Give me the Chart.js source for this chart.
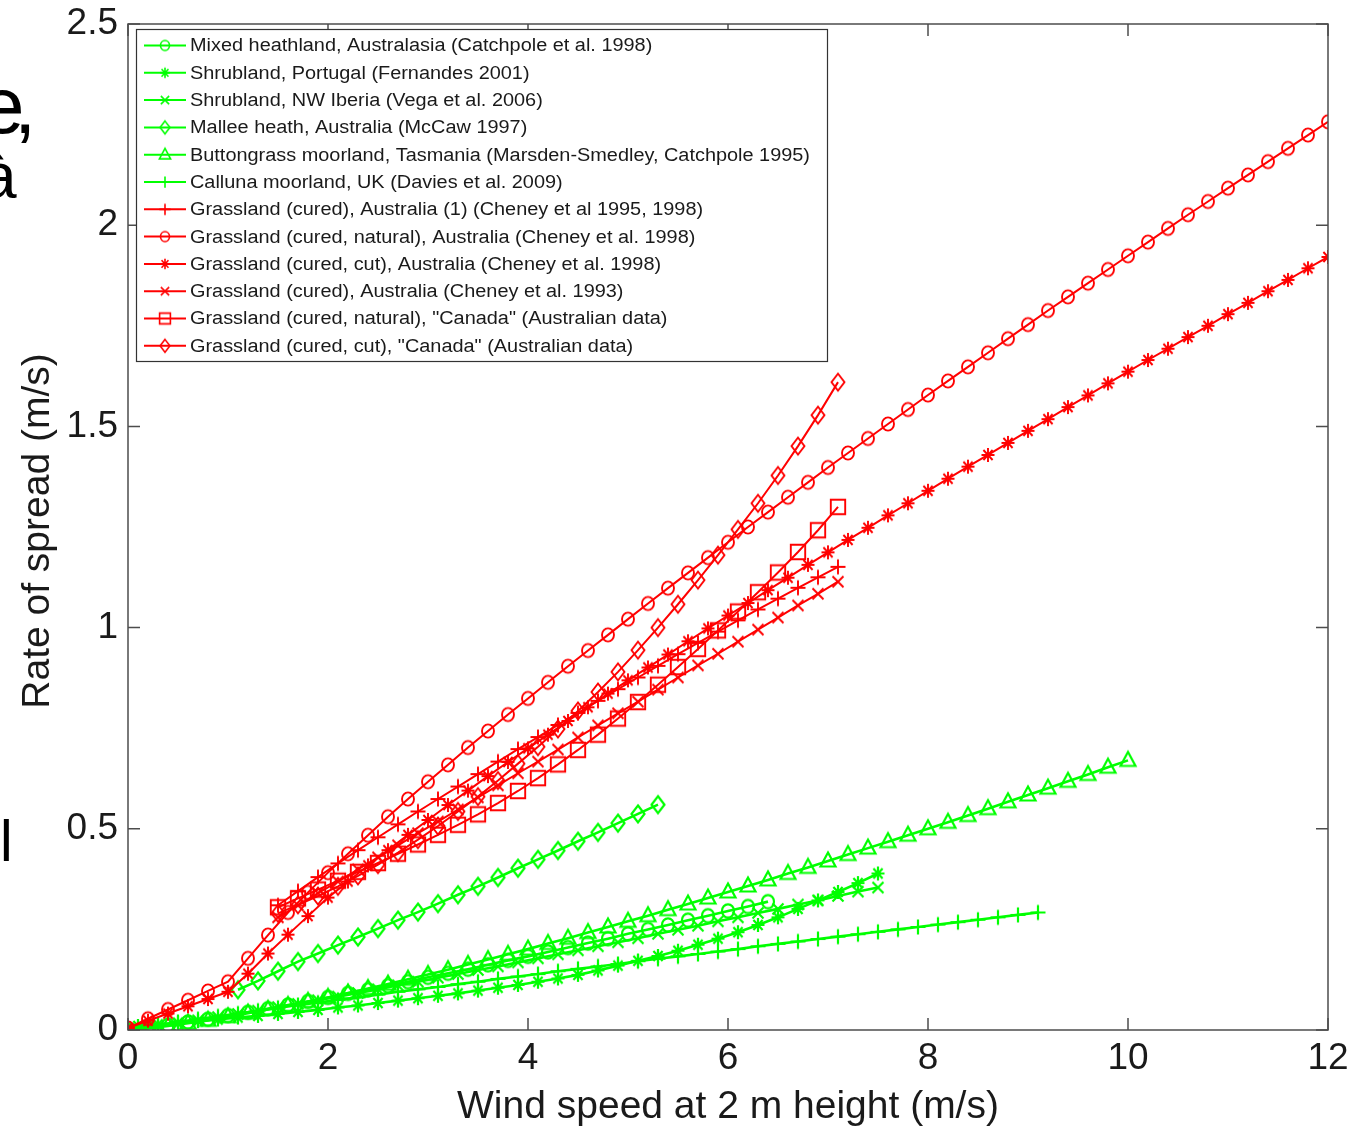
<!DOCTYPE html>
<html>
<head>
<meta charset="utf-8">
<title>Rate of spread vs wind speed</title>
<script src="https://cdn.jsdelivr.net/npm/chart.js@4.4.1/dist/chart.umd.min.js"></script>
<style>
  html, body { margin: 0; padding: 0; background: #ffffff; }
  #wrap { width: 1358px; height: 1126px; }
</style>
</head>
<body>
<div id="wrap"><canvas id="ros" width="1358" height="1126"></canvas></div>
<script>
// wind speed samples (m/s at 2 m)
const xFull = [0,0.2,0.4,0.6,0.8,1,1.2,1.4,1.6,1.8,2,2.2,2.4,2.6,2.8,3,3.2,3.4,3.6,3.8,
  4,4.2,4.4,4.6,4.8,5,5.2,5.4,5.6,5.8,6,6.2,6.4,6.6,6.8,7,7.2,7.4,7.6,7.8,
  8,8.2,8.4,8.6,8.8,9,9.2,9.4,9.6,9.8,10,10.2,10.4,10.6,10.8,11,11.2,11.4,11.6,11.8,12];
const xShort = [1.5,1.7,1.9,2.1,2.3,2.5,2.7,2.9,3.1,3.3,3.5,3.7,3.9,4.1,4.3,4.5,4.7,4.9,5.1,5.3,
  5.5,5.7,5.9,6.1,6.3,6.5,6.7,6.9,7.1];
const xButton = [0,0.2,0.4,0.6,0.8,1,1.2,1.4,1.6,1.8,2,2.2,2.4,2.6,2.8,3,3.2,3.4,3.6,3.8,
  4,4.2,4.4,4.6,4.8,5,5.2,5.4,5.6,5.8,6,6.2,6.4,6.6,6.8,7,7.2,7.4,7.6,7.8,
  8,8.2,8.4,8.6,8.8,9,9.2,9.4,9.6,9.8,10];
const xHeath = [0,0.2,0.4,0.6,0.8,1,1.2,1.4,1.6,1.8,2,2.2,2.4,2.6,2.8,3,3.2,3.4,3.6,3.8,
  4,4.2,4.4,4.6,4.8,5,5.2,5.4,5.6,5.8,6,6.2,6.4];
const xShrub = [0.1,0.3,0.5,0.7,0.9,1.1,1.3,1.5,1.7,1.9,2.1,2.3,2.5,2.7,2.9,3.1,3.3,3.5,3.7,3.9,
  4.1,4.3,4.5,4.7,4.9,5.1,5.3,5.5,5.7,5.9,6.1,6.3,6.5,6.7,6.9,7.1,7.3,7.5];
const xCalluna = [0.1,0.3,0.5,0.7,0.9,1.1,1.3,1.5,1.7,1.9,2.1,2.3,2.5,2.7,2.9,3.1,3.3,3.5,3.7,3.9,
  4.1,4.3,4.5,4.7,4.9,5.1,5.3,5.5,5.7,5.9,6.1,6.3,6.5,6.7,6.9,7.1,7.3,7.5,7.7,7.9,
  8.1,8.3,8.5,8.7,8.9,9.1];
const xMallee = [1.1,1.3,1.5,1.7,1.9,2.1,2.3,2.5,2.7,2.9,3.1,3.3,3.5,3.7,3.9,4.1,4.3,4.5,4.7,4.9,5.1,5.3];

// rate of spread (m/s)
const rosMixedHeath = [0,0.005,0.012,0.020,0.027,0.036,0.044,0.053,0.062,0.071,0.081,0.091,0.100,0.110,0.120,
  0.131,0.141,0.151,0.162,0.173,0.183,0.194,0.205,0.216,0.227,0.239,0.250,0.261,0.273,0.284,0.296,0.307,0.319];
const rosShrubPortugal = [0.010,0.014,0.018,0.022,0.026,0.031,0.035,0.040,0.045,0.050,0.056,0.061,0.067,0.073,0.079,
  0.085,0.091,0.098,0.105,0.112,0.120,0.128,0.137,0.148,0.160,0.172,0.184,0.197,0.212,0.227,
  0.243,0.261,0.280,0.301,0.322,0.343,0.365,0.389];
const rosShrubIberia = [0.003,0.009,0.016,0.024,0.032,0.040,0.048,0.057,0.065,0.074,0.083,0.092,0.101,0.111,0.120,
  0.130,0.139,0.149,0.158,0.168,0.178,0.188,0.198,0.208,0.218,0.228,0.239,0.249,0.259,0.270,
  0.280,0.291,0.301,0.312,0.322,0.333,0.344,0.354];
const rosMallee = [0.100,0.122,0.146,0.170,0.190,0.211,0.231,0.252,0.273,0.293,0.314,0.336,0.357,0.379,0.402,
  0.424,0.446,0.469,0.491,0.514,0.537,0.560];
const rosButtongrass = [0,0.004,0.010,0.017,0.024,0.033,0.042,0.051,0.061,0.071,0.081,0.092,0.103,0.114,0.126,
  0.138,0.150,0.163,0.175,0.188,0.201,0.215,0.228,0.242,0.256,0.270,0.284,0.299,0.313,0.328,
  0.343,0.358,0.373,0.389,0.404,0.420,0.436,0.452,0.468,0.484,0.500,0.516,0.533,0.550,0.567,
  0.584,0.601,0.618,0.635,0.653,0.670];
const rosCalluna = [0.004,0.012,0.020,0.027,0.034,0.041,0.048,0.055,0.062,0.068,0.075,0.081,0.088,0.095,0.101,
  0.107,0.114,0.120,0.127,0.133,0.139,0.146,0.152,0.158,0.164,0.171,0.177,0.183,0.189,0.195,
  0.201,0.208,0.214,0.220,0.226,0.232,0.238,0.244,0.250,0.256,0.262,0.268,0.274,0.280,0.286,0.292];
const rosGrass1 = [0.310,0.345,0.380,0.414,0.447,0.479,0.511,0.543,0.574,0.605,0.636,0.667,0.698,0.728,0.758,
  0.788,0.818,0.847,0.876,0.905,0.934,0.962,0.990,1.018,1.045,1.072,1.099,1.125,1.151];
const rosGrassNatural = [0.005,0.028,0.051,0.074,0.097,0.120,0.178,0.236,0.292,0.342,0.391,0.438,0.484,0.530,0.574,
  0.617,0.659,0.702,0.743,0.784,0.824,0.864,0.904,0.943,0.982,1.021,1.060,1.098,1.136,1.174,
  1.212,1.250,1.287,1.324,1.361,1.398,1.434,1.470,1.506,1.542,1.578,1.613,1.648,1.683,1.718,
  1.753,1.788,1.822,1.856,1.890,1.924,1.958,1.992,2.026,2.059,2.092,2.125,2.158,2.191,2.224,2.257];
const rosGrassCut = [0.005,0.023,0.041,0.059,0.077,0.095,0.140,0.190,0.237,0.283,0.329,0.369,0.409,0.447,0.485,
  0.522,0.559,0.595,0.631,0.666,0.700,0.734,0.768,0.802,0.836,0.869,0.901,0.933,0.966,0.998,
  1.030,1.061,1.093,1.124,1.156,1.187,1.218,1.248,1.279,1.309,1.340,1.370,1.400,1.429,1.459,
  1.489,1.518,1.548,1.577,1.607,1.636,1.665,1.693,1.722,1.750,1.779,1.807,1.836,1.864,1.893,1.921];
const rosGrass1993 = [0.280,0.310,0.340,0.369,0.399,0.429,0.459,0.489,0.518,0.548,0.578,0.608,0.638,0.667,0.697,
  0.727,0.757,0.787,0.816,0.846,0.876,0.906,0.935,0.965,0.995,1.025,1.055,1.084,1.114];
const rosCanadaNatural = [0.305,0.327,0.349,0.371,0.393,0.415,0.438,0.461,0.485,0.510,0.536,0.564,0.594,0.626,0.660,
  0.696,0.734,0.774,0.815,0.858,0.902,0.947,0.993,1.040,1.088,1.137,1.188,1.242,1.300];
const rosCanadaCut = [0.290,0.311,0.333,0.357,0.383,0.411,0.441,0.473,0.507,0.543,0.580,0.620,0.662,0.704,0.748,
  0.793,0.840,0.890,0.944,1.000,1.058,1.118,1.180,1.244,1.309,1.378,1.451,1.528,1.610];

const xTicks = [0, 2, 4, 6, 8, 10, 12];
const yTicks = [0, 0.5, 1, 1.5, 2, 2.5];

const GREEN = '#00ff00';
const RED = '#ff0000';
const INK = '#1a1a1a';
const AXIS = '#4d4d4d';
const FONT = '"Liberation Sans", Arial, Helvetica, sans-serif';

const series = [
  { label: 'Mixed heathland, Australasia (Catchpole et al. 1998)', xs: xHeath, ys: rosMixedHeath, color: GREEN, marker: 'o' },
  { label: 'Shrubland, Portugal (Fernandes 2001)', xs: xShrub, ys: rosShrubPortugal, color: GREEN, marker: '*' },
  { label: 'Shrubland, NW Iberia (Vega et al. 2006)', xs: xShrub, ys: rosShrubIberia, color: GREEN, marker: 'x' },
  { label: 'Mallee heath, Australia (McCaw 1997)', xs: xMallee, ys: rosMallee, color: GREEN, marker: 'd' },
  { label: 'Buttongrass moorland, Tasmania (Marsden-Smedley, Catchpole 1995)', xs: xButton, ys: rosButtongrass, color: GREEN, marker: '^' },
  { label: 'Calluna moorland, UK (Davies et al. 2009)', xs: xCalluna, ys: rosCalluna, color: GREEN, marker: '+' },
  { label: 'Grassland (cured), Australia (1) (Cheney et al 1995, 1998)', xs: xShort, ys: rosGrass1, color: RED, marker: '+' },
  { label: 'Grassland (cured, natural), Australia (Cheney et al. 1998)', xs: xFull, ys: rosGrassNatural, color: RED, marker: 'o' },
  { label: 'Grassland (cured, cut), Australia (Cheney et al. 1998)', xs: xFull, ys: rosGrassCut, color: RED, marker: '*' },
  { label: 'Grassland (cured), Australia (Cheney et al. 1993)', xs: xShort, ys: rosGrass1993, color: RED, marker: 'x' },
  { label: 'Grassland (cured, natural), "Canada" (Australian data)', xs: xShort, ys: rosCanadaNatural, color: RED, marker: 's' },
  { label: 'Grassland (cured, cut), "Canada" (Australian data)', xs: xShort, ys: rosCanadaCut, color: RED, marker: 'd' }
];

// matlab-ish open markers, drawn once into small canvases
function makeMarker(kind, color, s, lw) {
  const c = document.createElement('canvas');
  c.width = 28; c.height = 28;
  const g = c.getContext('2d');
  g.strokeStyle = color;
  g.lineWidth = lw;
  g.translate(14, 14);
  g.beginPath();
  switch (kind) {
    case 'o': g.ellipse(0, 0, 6 * s, 6.6 * s, 0, 0, Math.PI * 2); break;
    case 's': g.rect(-7.2 * s, -7.2 * s, 14.4 * s, 14.4 * s); break;
    case 'd':
      g.moveTo(0, -8.5 * s); g.lineTo(6.5 * s, 0); g.lineTo(0, 8.5 * s); g.lineTo(-6.5 * s, 0); g.closePath();
      break;
    case '^':
      g.moveTo(0, -8.5 * s); g.lineTo(7.5 * s, 5.5 * s); g.lineTo(-7.5 * s, 5.5 * s); g.closePath();
      break;
    case '+':
      g.moveTo(-7.5 * s, 0); g.lineTo(7.5 * s, 0); g.moveTo(0, -7.5 * s); g.lineTo(0, 7.5 * s);
      break;
    case 'x':
      g.moveTo(-5.5 * s, -5.5 * s); g.lineTo(5.5 * s, 5.5 * s); g.moveTo(5.5 * s, -5.5 * s); g.lineTo(-5.5 * s, 5.5 * s);
      break;
    case '*':
      g.moveTo(-6.5 * s, 0); g.lineTo(6.5 * s, 0); g.moveTo(0, -7 * s); g.lineTo(0, 7 * s);
      g.moveTo(-4.6 * s, -5 * s); g.lineTo(4.6 * s, 5 * s); g.moveTo(4.6 * s, -5 * s); g.lineTo(-4.6 * s, 5 * s);
      break;
  }
  g.stroke();
  return c;
}

series.forEach(s => {
  const lw = s.color === GREEN ? 2.2 : 1.9;
  s.lineWidth = s.color === GREEN ? 2.6 : 2;
  s.plotMarker = makeMarker(s.marker, s.color, 1, lw);
  s.legendMarker = makeMarker(s.marker, s.color, 0.75, 1.6);
});

const datasets = series.map((s, i) => ({
  label: s.label,
  data: s.xs.map((x, k) => ({ x: x, y: s.ys[k] })),
  borderColor: s.color,
  borderWidth: s.lineWidth,
  pointStyle: s.plotMarker,
  pointRadius: 4,
  pointHoverRadius: 4,
  tension: 0,
  fill: false,
  // later series sit on top, as in the legend order
  order: series.length - i
}));

const LEGEND_BOX = { left: 136, top: 29, right: 827, bottom: 361 };

const matlabAxes = {
  id: 'matlabAxes',
  afterDatasetsDraw(chart) {
    const { ctx, chartArea: a, scales: { x, y } } = chart;
    ctx.save();

    // box and inward ticks on all four sides
    ctx.strokeStyle = AXIS;
    ctx.lineWidth = 1.5;
    ctx.strokeRect(a.left, a.top, a.right - a.left, a.bottom - a.top);
    ctx.beginPath();
    xTicks.forEach(v => {
      const px = x.getPixelForValue(v);
      ctx.moveTo(px, a.bottom); ctx.lineTo(px, a.bottom - 12);
      ctx.moveTo(px, a.top); ctx.lineTo(px, a.top + 12);
    });
    yTicks.forEach(v => {
      const py = y.getPixelForValue(v);
      ctx.moveTo(a.left, py); ctx.lineTo(a.left + 12, py);
      ctx.moveTo(a.right, py); ctx.lineTo(a.right - 12, py);
    });
    ctx.stroke();

    // legend inside the axes, top left
    const b = LEGEND_BOX;
    ctx.fillStyle = '#ffffff';
    ctx.fillRect(b.left, b.top, b.right - b.left, b.bottom - b.top);
    ctx.strokeStyle = '#333333';
    ctx.lineWidth = 1.2;
    ctx.strokeRect(b.left + 0.5, b.top + 0.5, b.right - b.left, b.bottom - b.top);

    ctx.font = '18px ' + FONT;
    ctx.textBaseline = 'middle';
    ctx.textAlign = 'left';
    const widest = Math.max(...series.map(s => ctx.measureText(s.label).width));
    const squeeze = 620 / widest;
    series.forEach((s, i) => {
      const ry = 45.5 + i * 27.3;
      ctx.strokeStyle = s.color;
      ctx.lineWidth = 2;
      ctx.beginPath();
      ctx.moveTo(144, ry); ctx.lineTo(186, ry);
      ctx.stroke();
      ctx.drawImage(s.legendMarker, 165 - 14, ry - 14);
      ctx.save();
      ctx.translate(190, ry + 1);
      ctx.scale(squeeze, 1);
      ctx.fillStyle = INK;
      ctx.fillText(s.label, 0, 0);
      ctx.restore();
    });
    ctx.restore();
  },
  afterDraw(chart) {
    const { ctx, chartArea: a } = chart;
    ctx.save();
    ctx.fillStyle = INK;
    ctx.font = '39px ' + FONT;
    ctx.textAlign = 'center';
    ctx.textBaseline = 'middle';
    ctx.fillText('Wind speed at 2 m height (m/s)', (a.left + a.right) / 2, 1107);
    ctx.translate(38, (a.top + a.bottom) / 2 + 4);
    ctx.rotate(-Math.PI / 2);
    ctx.fillText('Rate of spread (m/s)', 0, 0);
    ctx.restore();

    // slide text peeking in at the left edge
    ctx.save();
    ctx.fillStyle = '#000000';
    ctx.textBaseline = 'alphabetic';
    ctx.textAlign = 'left';
    ctx.font = '80px ' + FONT;
    ctx.fillText('e', -20, 133);
    ctx.fillText(',', 14, 133);
    ctx.font = '64px ' + FONT;
    ctx.fillText('\u00e0', -19, 198);
    ctx.font = '57px ' + FONT;
    ctx.fillText('l', 0, 861);
    ctx.restore();
  }
};

new Chart(document.getElementById('ros'), {
  type: 'line',
  data: { datasets },
  options: {
    responsive: false,
    animation: false,
    events: [],
    layout: { padding: { top: 24, right: 30, left: 0, bottom: 0 } },
    plugins: { legend: { display: false }, tooltip: { enabled: false } },
    scales: {
      x: {
        type: 'linear', min: 0, max: 12,
        afterBuildTicks: s => { s.ticks = xTicks.map(v => ({ value: v })); },
        afterFit: s => { s.height = 96; s.paddingLeft = 0; s.paddingRight = 0; },
        ticks: { color: INK, padding: 7, maxRotation: 0, font: { family: FONT, size: 37 }, callback: v => String(v) },
        grid: { display: false, drawTicks: false },
        border: { display: false }
      },
      y: {
        type: 'linear', min: 0, max: 2.5,
        afterBuildTicks: s => { s.ticks = yTicks.map(v => ({ value: v })); },
        afterFit: s => { s.width = 128; s.paddingTop = 0; s.paddingBottom = 0; },
        ticks: { color: INK, padding: 10, font: { family: FONT, size: 37 }, callback: v => String(v) },
        grid: { display: false, drawTicks: false },
        border: { display: false }
      }
    }
  },
  plugins: [matlabAxes]
});
</script>
</body>
</html>
